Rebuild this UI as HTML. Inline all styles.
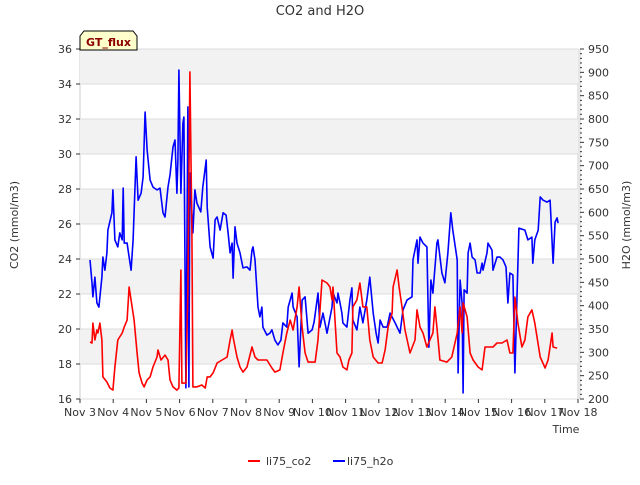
<!DOCTYPE html>
<html><head><meta charset="utf-8"><style>
body{margin:0;background:#fff;}
svg{font-family:"DejaVu Sans","Liberation Sans",sans-serif;}
</style></head><body>
<svg id="chart" width="640" height="480">
<text x="320" y="15" text-anchor="middle" font-size="13" fill="#333">CO2 and H2O</text>
<g id="bg"></g><g id="grid"></g><g id="series"></g><g id="axes"></g>
<text transform="translate(18,225) rotate(-90)" text-anchor="middle" font-size="11" fill="#333">CO2 (mmol/m3)</text>
<text transform="translate(630,225) rotate(-90)" text-anchor="middle" font-size="11" fill="#333">H2O (mmol/m3)</text>
<text x="566" y="433" text-anchor="middle" font-size="11" fill="#333">Time</text>
<g>
<path d="M80,50 L80,36 L84,31 L133,31 L137,36 L137,50 Z" fill="#ffffcc" stroke="#000" stroke-width="1"/>
<text x="108.5" y="46" text-anchor="middle" font-size="11" font-weight="bold" fill="#8b0000">GT_flux</text>
</g>
<g>
<g><line x1="248" y1="461" x2="260" y2="461" stroke="#f00" stroke-width="2"/><text x="266" y="465" font-size="11" fill="#333">li75_co2</text></g>
<g><line x1="333" y1="461" x2="345" y2="461" stroke="#00f" stroke-width="2"/><text x="347" y="465" font-size="11" fill="#333">li75_h2o</text></g>
</g>
</svg>
<script>
const xTickLabels=["Nov 3","Nov 4","Nov 5","Nov 6","Nov 7","Nov 8","Nov 9","Nov 10","Nov 11","Nov 12","Nov 13","Nov 14","Nov 15","Nov 16","Nov 17","Nov 18"];
const co2Ticks=[16,18,20,22,24,26,28,30,32,34,36];
const h2oTicks=[200,250,300,350,400,450,500,550,600,650,700,750,800,850,900,950];
const h2oDays=[.30,.36,.39,.45,.51,.57,.66,.69,.75,.81,.84,.96,.99,1.05,1.14,1.20,1.27,1.30,1.33,1.42,1.45,1.54,1.60,1.69,1.75,1.84,1.90,1.96,2.02,2.11,2.20,2.32,2.41,2.50,2.56,2.65,2.71,2.80,2.86,2.92,2.95,2.98,3.04,3.10,3.13,3.19,3.25,3.28,3.31,3.40,3.46,3.52,3.64,3.70,3.80,3.83,3.92,4.01,4.07,4.13,4.22,4.31,4.40,4.46,4.52,4.58,4.61,4.67,4.73,4.82,4.91,5.03,5.12,5.18,5.21,5.27,5.36,5.42,5.48,5.51,5.63,5.72,5.78,5.87,5.96,6.05,6.11,6.23,6.27,6.39,6.42,6.54,6.60,6.69,6.78,6.87,6.99,7.05,7.17,7.23,7.32,7.44,7.59,7.62,7.74,7.77,7.83,7.89,7.92,8.04,8.13,8.19,8.22,8.34,8.43,8.52,8.64,8.73,8.83,8.92,8.98,9.04,9.13,9.25,9.34,9.49,9.64,9.73,9.85,10.00,10.03,10.15,10.18,10.24,10.33,10.45,10.51,10.57,10.63,10.75,10.78,10.90,10.99,11.08,11.17,11.23,11.36,11.39,11.45,11.51,11.54,11.57,11.66,11.69,11.75,11.81,11.90,11.96,12.05,12.11,12.14,12.26,12.29,12.41,12.44,12.56,12.65,12.74,12.83,12.89,12.95,13.04,13.10,13.22,13.40,13.49,13.61,13.64,13.70,13.80,13.86,13.95,14.07,14.16,14.25,14.31,14.37,14.40];
const h2oValues=[498,449,419,461,406,397,461,504,476,513,562,599,648,541,526,556,541,652,534,534,519,476,541,719,626,641,676,815,734,669,654,648,652,599,590,654,680,740,755,641,712,905,641,791,804,224,826,226,684,556,648,620,601,654,712,611,526,502,584,590,562,599,594,556,513,534,459,569,534,513,481,483,476,519,526,498,397,376,397,354,337,341,348,326,316,326,363,354,397,427,397,376,269,412,419,341,348,365,427,354,384,341,397,427,406,427,406,384,363,354,412,438,369,348,397,363,412,461,384,341,320,369,354,354,384,363,341,391,412,419,498,541,491,547,534,526,311,455,427,534,541,470,449,513,599,562,498,256,455,406,213,434,427,513,534,504,498,470,470,491,476,513,534,519,476,504,504,498,483,406,470,466,256,566,562,541,547,491,541,562,633,626,622,626,491,579,588,577];
const co2Days=[.30,.36,.39,.45,.51,.54,.60,.66,.69,.81,.90,.99,1.05,1.14,1.27,1.33,1.42,1.48,1.57,1.63,1.72,1.78,1.87,1.93,2.02,2.11,2.20,2.32,2.35,2.44,2.56,2.65,2.71,2.80,2.92,2.98,3.04,3.07,3.19,3.25,3.31,3.37,3.40,3.52,3.67,3.77,3.83,3.92,4.01,4.13,4.28,4.43,4.52,4.58,4.61,4.73,4.82,4.91,5.03,5.18,5.27,5.36,5.63,5.78,5.87,6.02,6.11,6.23,6.33,6.42,6.54,6.60,6.69,6.78,6.87,7.08,7.17,7.29,7.44,7.53,7.59,7.62,7.74,7.83,7.92,8.04,8.10,8.19,8.22,8.34,8.43,8.52,8.64,8.73,8.83,8.98,9.10,9.19,9.28,9.40,9.43,9.55,9.61,9.70,9.79,9.94,10.09,10.15,10.24,10.33,10.45,10.54,10.63,10.69,10.75,10.84,11.05,11.20,11.36,11.45,11.51,11.54,11.66,11.75,11.84,11.99,12.11,12.20,12.29,12.44,12.56,12.71,12.86,12.95,13.04,13.10,13.19,13.31,13.40,13.49,13.61,13.70,13.86,14.01,14.10,14.22,14.25,14.37];
const co2Values=[19.26,19.20,20.34,19.37,19.94,19.77,20.34,19.37,17.26,16.97,16.63,16.51,17.83,19.37,19.77,20.11,20.51,22.40,21.26,20.51,18.63,17.49,16.91,16.69,17.09,17.26,17.83,18.40,18.80,18.23,18.51,18.23,17.09,16.69,16.51,16.63,23.37,16.91,16.91,22.23,34.69,25.49,16.69,16.69,16.80,16.63,17.26,17.26,17.49,18.06,18.23,18.40,19.37,19.94,19.54,18.40,17.83,17.54,17.83,18.97,18.40,18.23,18.23,17.77,17.54,17.66,18.63,19.77,20.51,19.94,21.26,22.40,20.11,18.63,18.11,18.11,19.37,22.80,22.63,22.40,21.66,22.40,18.63,18.40,17.83,17.66,18.23,18.63,21.26,21.66,22.63,21.26,21.26,19.37,18.40,18.06,18.06,18.80,20.11,20.91,22.40,23.37,22.40,21.26,19.94,18.63,19.37,21.09,20.11,19.77,18.97,19.37,19.77,21.26,20.11,18.23,18.11,18.40,19.77,21.26,19.77,21.49,20.69,18.63,18.23,17.83,17.66,18.97,18.97,18.97,19.20,19.20,19.37,18.63,18.63,21.83,20.34,18.97,19.37,20.69,21.09,20.34,18.40,17.77,18.23,19.77,18.97,18.91];

const L=80,R=578,T=49,B=399,NS="http://www.w3.org/2000/svg";
const xS=d=>L+d*(R-L)/15;
const yL=v=>B-(v-16)*(B-T)/20;
const yR=v=>B-(v-200)*(B-T)/750;
function mk(tag,attrs,parent){const e=document.createElementNS(NS,tag);for(const k in attrs)e.setAttribute(k,attrs[k]);parent.appendChild(e);return e;}
const bg=document.getElementById('bg'),grid=document.getElementById('grid'),axes=document.getElementById('axes'),series=document.getElementById('series');
const pa=mk('rect',{x:L,y:T,width:R-L,height:B-T,fill:'#fff',stroke:'#ccc'},bg);


[18,22,26,30,34].forEach(v=>{
 const b=mk('rect',{x:L,y:yL(v+2),width:R-L,height:yL(v)-yL(v+2),fill:'#f2f2f2'},bg);
 
 
});
co2Ticks.forEach(v=>{
 const g=mk('line',{x1:L,x2:R,y1:yL(v),y2:yL(v),stroke:'#dcdcdc','stroke-width':1},grid);
 
 
 mk('line',{x1:L-4,x2:L,y1:yL(v),y2:yL(v),stroke:'#333'},axes);
 const t=mk('text',{x:L-8,y:yL(v)+4,'text-anchor':'end','font-size':11,fill:'#333'},axes);
 t.textContent=v;
 
 
});
mk('line',{x1:R+2,x2:R+2,y1:T,y2:B,stroke:'#ccc'},axes);
for(let v=200;v<=950;v+=10){mk('line',{x1:R+2,x2:R+(v%50===0?6:4),y1:yR(v),y2:yR(v),stroke:'#333'},axes);}
h2oTicks.forEach(v=>{
 const t=mk('text',{x:R+10,y:yR(v)+4,'font-size':11,fill:'#333'},axes);
 t.textContent=v;
 
 
});
xTickLabels.forEach((s,i)=>{
 mk('line',{x1:xS(i),x2:xS(i),y1:B,y2:B+4,stroke:'#333'},axes);
 const t=mk('text',{x:xS(i),y:B+17,'text-anchor':'middle','font-size':11,fill:'#333'},axes);
 t.textContent=s;
 
 
});
function line(days,vals,ys,color,name){
 const d=days.map((x,i)=>(i?'L':'M')+xS(x).toFixed(1)+','+ys(vals[i]).toFixed(1)).join(' ');
 const p=mk('path',{d:d,fill:'none',stroke:color,'stroke-width':1.6,'stroke-linejoin':'round'},series);
 
 
}
line(h2oDays,h2oValues,yR,'#00f','h2o-line');
line(co2Days,co2Values,yL,'#f00','co2-line');
</script>
</body></html>
